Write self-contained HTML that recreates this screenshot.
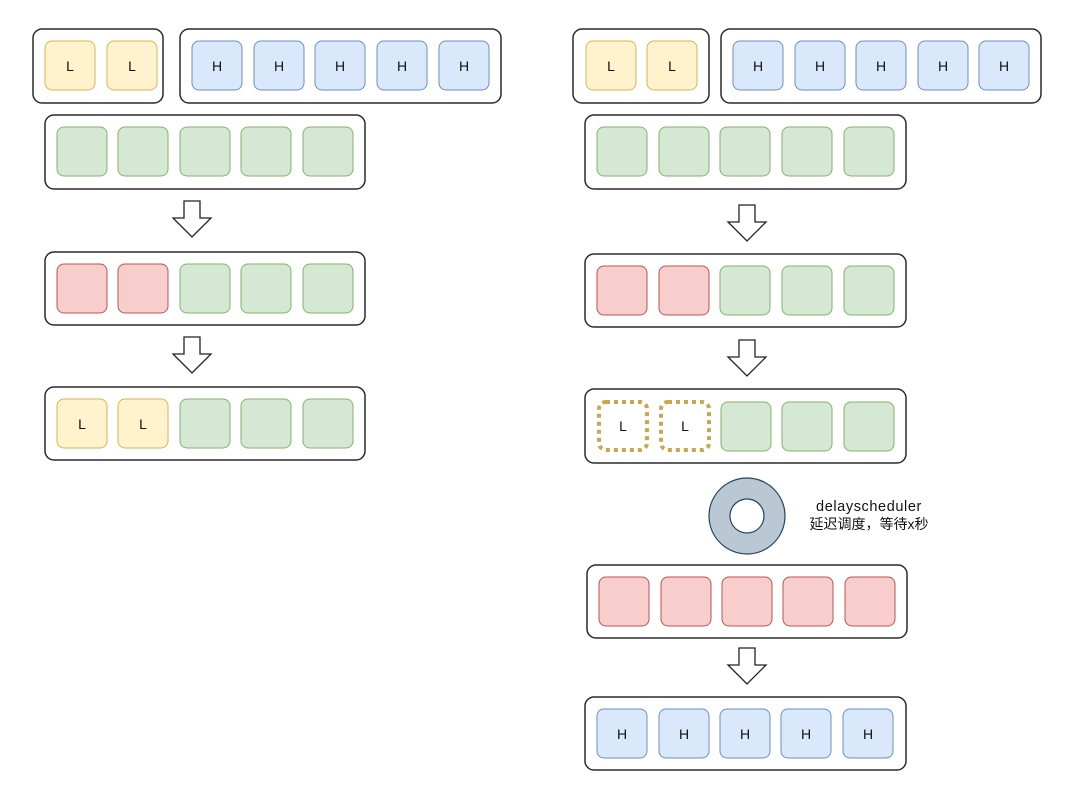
<!DOCTYPE html><html><head><meta charset="utf-8"><style>body{margin:0;background:#fff}svg{display:block}text{font-family:"Liberation Sans","Noto Sans CJK SC",sans-serif;font-size:14px;fill:#111}</style></head><body>
<svg width="1080" height="805" viewBox="0 0 1080 805" xmlns="http://www.w3.org/2000/svg">
<defs>
<style>
.c{fill:#fff;stroke:#2a2a2a;stroke-width:1.5}
.y{fill:#fff2cc;stroke:#d6b656}.b{fill:#dae8fc;stroke:#6c8ebf}.g{fill:#d5e8d4;stroke:#82b366}.r{fill:#f8cecc;stroke:#b85450}
.d{fill:#fff;stroke:#c9a74a;stroke-width:4;stroke-dasharray:4 4}
.a{fill:#fff;stroke:#222;stroke-width:1.3}
</style>
</defs>
<!-- LEFT -->
<rect class="c" x="33" y="29" width="130" height="74" rx="9"/>
<rect class="y" x="45" y="41" width="50" height="49" rx="7"/><text x="70" y="71" text-anchor="middle">L</text>
<rect class="y" x="107" y="41" width="50" height="49" rx="7"/><text x="132" y="71" text-anchor="middle">L</text>
<rect class="c" x="180" y="29" width="321" height="74" rx="9"/>
<g text-anchor="middle">
<rect class="b" x="192" y="41" width="50" height="49" rx="7"/><text x="217" y="71">H</text>
<rect class="b" x="254" y="41" width="50" height="49" rx="7"/><text x="279" y="71">H</text>
<rect class="b" x="315" y="41" width="50" height="49" rx="7"/><text x="340" y="71">H</text>
<rect class="b" x="377" y="41" width="50" height="49" rx="7"/><text x="402" y="71">H</text>
<rect class="b" x="439" y="41" width="50" height="49" rx="7"/><text x="464" y="71">H</text>
</g>
<rect class="c" x="45" y="115" width="320" height="74" rx="9"/>
<rect class="g" x="57" y="127" width="50" height="49" rx="7"/><rect class="g" x="118" y="127" width="50" height="49" rx="7"/><rect class="g" x="180" y="127" width="50" height="49" rx="7"/><rect class="g" x="241" y="127" width="50" height="49" rx="7"/><rect class="g" x="303" y="127" width="50" height="49" rx="7"/>
<polygon class="a" points="184,201 200,201 200,218 211,218 192,237 173,218 184,218"/>
<rect class="c" x="45" y="252" width="320" height="73" rx="9"/>
<rect class="r" x="57" y="264" width="50" height="49" rx="7"/><rect class="r" x="118" y="264" width="50" height="49" rx="7"/><rect class="g" x="180" y="264" width="50" height="49" rx="7"/><rect class="g" x="241" y="264" width="50" height="49" rx="7"/><rect class="g" x="303" y="264" width="50" height="49" rx="7"/>
<polygon class="a" points="184,337 200,337 200,354 211,354 192,373 173,354 184,354"/>
<rect class="c" x="45" y="387" width="320" height="73" rx="9"/>
<rect class="y" x="57" y="399" width="50" height="49" rx="7"/><text x="82" y="429" text-anchor="middle">L</text>
<rect class="y" x="118" y="399" width="50" height="49" rx="7"/><text x="143" y="429" text-anchor="middle">L</text>
<rect class="g" x="180" y="399" width="50" height="49" rx="7"/><rect class="g" x="241" y="399" width="50" height="49" rx="7"/><rect class="g" x="303" y="399" width="50" height="49" rx="7"/>
<!-- RIGHT -->
<rect class="c" x="573" y="29" width="136" height="74" rx="9"/>
<rect class="y" x="586" y="41" width="50" height="49" rx="7"/><text x="611" y="71" text-anchor="middle">L</text>
<rect class="y" x="647" y="41" width="50" height="49" rx="7"/><text x="672" y="71" text-anchor="middle">L</text>
<rect class="c" x="721" y="29" width="320" height="74" rx="9"/>
<g text-anchor="middle">
<rect class="b" x="733" y="41" width="50" height="49" rx="7"/><text x="758" y="71">H</text>
<rect class="b" x="795" y="41" width="50" height="49" rx="7"/><text x="820" y="71">H</text>
<rect class="b" x="856" y="41" width="50" height="49" rx="7"/><text x="881" y="71">H</text>
<rect class="b" x="918" y="41" width="50" height="49" rx="7"/><text x="943" y="71">H</text>
<rect class="b" x="979" y="41" width="50" height="49" rx="7"/><text x="1004" y="71">H</text>
</g>
<rect class="c" x="585" y="115" width="321" height="74" rx="9"/>
<rect class="g" x="597" y="127" width="50" height="49" rx="7"/><rect class="g" x="659" y="127" width="50" height="49" rx="7"/><rect class="g" x="720" y="127" width="50" height="49" rx="7"/><rect class="g" x="782" y="127" width="50" height="49" rx="7"/><rect class="g" x="844" y="127" width="50" height="49" rx="7"/>
<polygon class="a" points="739,205 755,205 755,222 766,222 747,241 728,222 739,222"/>
<rect class="c" x="585" y="254" width="321" height="73" rx="9"/>
<rect class="r" x="597" y="266" width="50" height="49" rx="7"/><rect class="r" x="659" y="266" width="50" height="49" rx="7"/><rect class="g" x="720" y="266" width="50" height="49" rx="7"/><rect class="g" x="782" y="266" width="50" height="49" rx="7"/><rect class="g" x="844" y="266" width="50" height="49" rx="7"/>
<polygon class="a" points="739,340 755,340 755,357 766,357 747,376 728,357 739,357"/>
<rect class="c" x="585" y="389" width="321" height="74" rx="9"/>
<rect class="d" x="599" y="402" width="48" height="48" rx="7"/><text x="623" y="431" text-anchor="middle">L</text>
<rect class="d" x="661" y="402" width="48" height="48" rx="7"/><text x="685" y="431" text-anchor="middle">L</text>
<rect class="g" x="721" y="402" width="50" height="49" rx="7"/><rect class="g" x="782" y="402" width="50" height="49" rx="7"/><rect class="g" x="844" y="402" width="50" height="49" rx="7"/>
<path d="M747,478 a38,38 0 1,0 0.01,0 Z M747,499 a17,17 0 1,1 -0.01,0 Z" fill="#bac8d3" stroke="#23445d" stroke-width="1.2" fill-rule="evenodd"/>
<text x="869" y="511" text-anchor="middle" style="font-size:14.5px;letter-spacing:0.6px">delayscheduler</text>
<text x="869" y="529" text-anchor="middle" style="font-size:14px">延迟调度，等待x秒</text>
<rect class="c" x="587" y="565" width="320" height="73" rx="9"/>
<rect class="r" x="599" y="577" width="50" height="49" rx="7"/><rect class="r" x="661" y="577" width="50" height="49" rx="7"/><rect class="r" x="722" y="577" width="50" height="49" rx="7"/><rect class="r" x="783" y="577" width="50" height="49" rx="7"/><rect class="r" x="845" y="577" width="50" height="49" rx="7"/>
<polygon class="a" points="739,648 755,648 755,665 766,665 747,684 728,665 739,665"/>
<rect class="c" x="585" y="697" width="321" height="73" rx="9"/>
<g text-anchor="middle">
<rect class="b" x="597" y="709" width="50" height="49" rx="7"/><text x="622" y="739">H</text>
<rect class="b" x="659" y="709" width="50" height="49" rx="7"/><text x="684" y="739">H</text>
<rect class="b" x="720" y="709" width="50" height="49" rx="7"/><text x="745" y="739">H</text>
<rect class="b" x="781" y="709" width="50" height="49" rx="7"/><text x="806" y="739">H</text>
<rect class="b" x="843" y="709" width="50" height="49" rx="7"/><text x="868" y="739">H</text>
</g>
</svg>
</body></html>
